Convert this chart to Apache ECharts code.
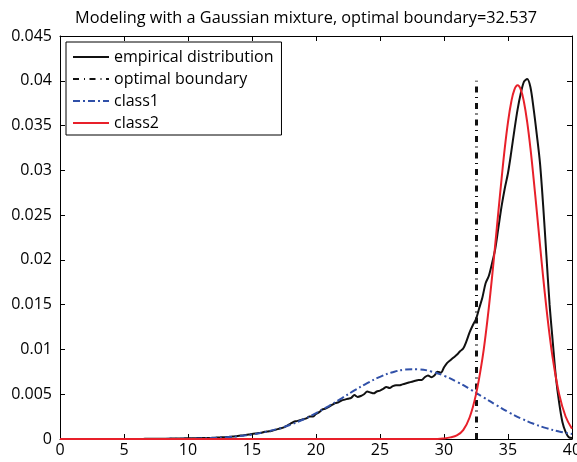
<!DOCTYPE html>
<html>
<head>
<meta charset="utf-8">
<script src="https://cdn.jsdelivr.net/npm/echarts@6/dist/echarts.min.js"></script>
<style>
  html, body { margin: 0; padding: 0; background: #fff; }
  #chart { width: 577px; height: 462px; }
</style>
</head>
<body>
<div id="chart"></div>
<script>
// Decision threshold between the two mixture components
const boundary = 32.537;
const boundaryTop = 0.04;

// Empirical density, sampled every 0.25 from 0 to 40
const empiricalStep = 0.25;
const empirical = [
  0, 0, 0, 0, 0, 0, 0, 0,
  0, 0, 0, 0, 0, 0, 0, 0,
  0, 0, 0, 0, 0, 0, 0, 0,
  0.00001, 0.00001, 0.00001, 0.00002, 0.00002, 0.00002, 0.00003, 0.00003,
  0.00003, 0.00004, 0.00004, 0.00005, 0.00005, 0.00006, 0.00006, 0.00007,
  0.00007, 0.00008, 0.00009, 0.0001, 0.0001, 0.00011, 0.00012, 0.00012,
  0.00014, 0.00016, 0.00018, 0.0002, 0.00021, 0.00024, 0.00027, 0.0003,
  0.00036, 0.0004, 0.00046, 0.0005, 0.00057, 0.00062, 0.00066, 0.0007,
  0.0008, 0.00085, 0.0009, 0.001, 0.0011, 0.0012, 0.0013, 0.0015,
  0.0017, 0.0019, 0.0020, 0.0021, 0.0022, 0.0023, 0.0025, 0.0025,
  0.0028, 0.0030, 0.0033, 0.0034, 0.0036, 0.0038, 0.0040, 0.0041,
  0.0043, 0.0044, 0.0045, 0.0046, 0.0049, 0.0047, 0.0048, 0.0050,
  0.0053, 0.0052, 0.0051, 0.0053, 0.0054, 0.0056, 0.0058, 0.0057,
  0.0059, 0.0060, 0.0060, 0.0061, 0.0062, 0.0063, 0.0064, 0.0065,
  0.0066, 0.0066, 0.0069, 0.0071, 0.0069, 0.0071, 0.0075, 0.0074,
  0.0080, 0.0085, 0.0088, 0.0091, 0.0094, 0.0098, 0.0101, 0.0109,
  0.0119, 0.0127, 0.0134, 0.0146, 0.0158, 0.0174, 0.0182, 0.0196,
  0.0212, 0.0236, 0.0260, 0.0280, 0.0297, 0.0320, 0.0345, 0.0368,
  0.0386, 0.0399, 0.0402, 0.0393, 0.0369, 0.0340, 0.0308, 0.0260,
  0.0205, 0.0150, 0.0108, 0.0068, 0.0040, 0.0019, 0.0008, 0.0002,
  0.0001
];

// First mixture component (broad)
const class1X = [
  0, 1, 2, 3, 4, 5, 6, 7, 8, 9, 10, 11, 12, 13, 14, 15, 16, 17, 18, 19, 20,
  21, 22, 23, 24, 25, 26, 27, 28, 29, 30, 31, 32, 33, 34, 35, 36, 37, 38, 39, 40
];
const class1Y = [
  0, 0, 0, 0, 0, 0.000001, 0.000002, 0.000005, 0.00001, 0.00002, 0.000037,
  0.000068, 0.00012, 0.0002, 0.00032, 0.0005, 0.00077, 0.00112, 0.00159, 0.00218, 0.00288,
  0.00368, 0.00454, 0.00542, 0.00624, 0.00694, 0.00746, 0.00775, 0.00778, 0.00754, 0.00706,
  0.00639, 0.00559, 0.00472, 0.00385, 0.00303, 0.00231, 0.0017, 0.00121, 0.00083, 0.00055
];

// Second mixture component (narrow)
const class2X = [
  0, 29.5, 30, 30.5, 31, 31.5, 32, 32.5, 33, 33.25, 33.5, 33.75, 34, 34.25, 34.5, 34.75,
  35, 35.25, 35.5, 35.75, 36, 36.25, 36.5, 36.75, 37, 37.25, 37.5, 37.75, 38, 38.25, 38.5,
  39, 39.5, 40
];
const class2Y = [
  0, 0, 0.00006, 0.00018, 0.0004, 0.001, 0.0024, 0.00498, 0.00897, 0.0116, 0.01464, 0.01803,
  0.02167, 0.02541, 0.02908, 0.0325, 0.03538, 0.0376, 0.03902, 0.0395, 0.03902, 0.0376,
  0.03538, 0.0325, 0.02908, 0.02541, 0.02167, 0.01803, 0.01464, 0.0116, 0.00897,
  0.00498, 0.00251, 0.00114
];

const seriesNames = ['empirical distribution', 'optimal boundary', 'class1', 'class2'];
const yTickLabels = ['0', '0.005', '0.01', '0.015', '0.02', '0.025', '0.03', '0.035', '0.04', '0.045'];
const xTickLabels = ['0', '5', '10', '15', '20', '25', '30', '35', '40'];

const zip = (xs, ys) => xs.map((x, i) => [x, ys[i]]);
const empiricalData = empirical.map((y, i) => [i * empiricalStep, y]);

const FONT = 'Open Sans';
const axisLineStyle = { color: '#000', width: 1 };

function xAxisDef(position, showLabels) {
  return {
    type: 'value', position, min: 0, max: 40, interval: 5,
    axisLine: { show: true, onZero: false, lineStyle: axisLineStyle },
    axisTick: { show: true, inside: true, length: 5, lineStyle: axisLineStyle },
    axisLabel: {
      show: showLabels, color: '#000', fontFamily: FONT, fontSize: 16, margin: 3,
      formatter: v => xTickLabels[Math.round(v / 5)]
    },
    splitLine: { show: false }
  };
}
function yAxisDef(position, showLabels) {
  return {
    type: 'value', position, min: 0, max: 0.045, interval: 0.005,
    axisLine: { show: true, onZero: false, lineStyle: axisLineStyle },
    axisTick: { show: true, inside: true, length: 5, lineStyle: axisLineStyle },
    axisLabel: {
      show: showLabels, color: '#000', fontFamily: FONT, fontSize: 16, margin: 8,
      formatter: v => yTickLabels[Math.round(v / 0.005)]
    },
    splitLine: { show: false }
  };
}

const chart = echarts.init(document.getElementById('chart'), null, { renderer: 'canvas' });
chart.setOption({
  animation: false,
  backgroundColor: '#fff',
  title: {
    text: 'Modeling with a Gaussian mixture, optimal boundary=' + boundary,
    left: 70, top: 5,
    textStyle: { fontFamily: FONT, fontSize: 16.3, fontWeight: 'normal', color: '#000' }
  },
  grid: { left: 60, right: 5, top: 36, bottom: 23, containLabel: false, outerBoundsMode: 'none' },
  legend: {
    data: seriesNames,
    orient: 'vertical',
    left: 66, top: 42,
    padding: [7, 8, 4, 6],
    itemGap: 6,
    itemWidth: 36, itemHeight: 14,
    itemStyle: { opacity: 0 },
    backgroundColor: '#fff',
    borderColor: '#000', borderWidth: 1, borderRadius: 0,
    textStyle: { fontFamily: FONT, fontSize: 16, color: '#000' }
  },
  xAxis: [xAxisDef('bottom', true), xAxisDef('top', false)],
  yAxis: [yAxisDef('left', true), yAxisDef('right', false)],
  series: [
    {
      name: seriesNames[0], type: 'line', data: empiricalData,
      symbol: 'none', smooth: 0.3,
      lineStyle: { color: '#111', width: 2 }, itemStyle: { color: '#111' }
    },
    {
      name: seriesNames[1], type: 'line',
      data: [[boundary, 0], [boundary, boundaryTop]],
      symbol: 'none',
      lineStyle: { color: '#111', width: 3, type: [6, 5, 1, 4.5] }, itemStyle: { color: '#111' }
    },
    {
      name: seriesNames[2], type: 'line', data: zip(class1X, class1Y),
      symbol: 'none', smooth: 0.4,
      lineStyle: { color: '#3050a8', width: 2, type: [7, 3, 2, 3] }, itemStyle: { color: '#3050a8' }
    },
    {
      name: seriesNames[3], type: 'line', data: zip(class2X, class2Y),
      symbol: 'none', smooth: 0.4,
      lineStyle: { color: '#e8202a', width: 2 }, itemStyle: { color: '#e8202a' }
    }
  ]
});
</script>
</body>
</html>
